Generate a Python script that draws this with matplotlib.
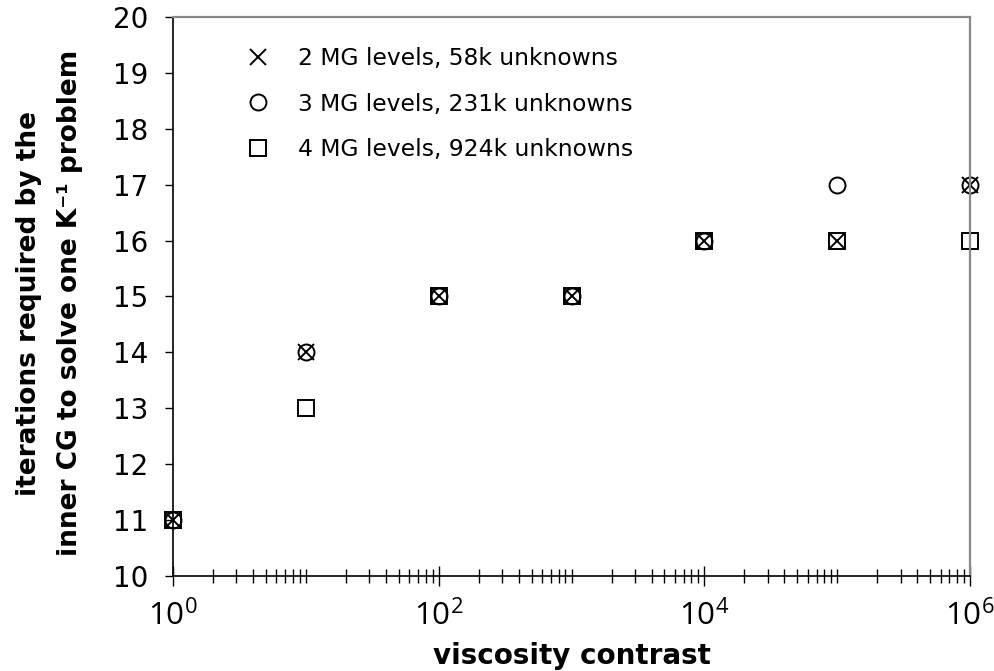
import math
import matplotlib
matplotlib.use("Agg")
import matplotlib.pyplot as plt
from matplotlib.ticker import FixedLocator, FuncFormatter

plt.rcParams['font.family'] = ['DejaVu Sans']
plt.rcParams['mathtext.default'] = 'regular'

viscosity = [1, 10, 100, 1000, 1e4, 1e5, 1e6]
iters_2mg = [11, 14, 15, 15, 16, 16, 17]
iters_3mg = [11, 14, 15, 15, 16, 17, 17]
iters_4mg = [11, 13, 15, 15, 16, 16, 16]
labels = ["2 MG levels, 58k unknowns",
          "3 MG levels, 231k unknowns",
          "4 MG levels, 924k unknowns"]
major_x = [1, 1e2, 1e4, 1e6]
yticks = list(range(10, 21))

fig = plt.figure(figsize=(9.95, 6.71), dpi=100)
ax = fig.add_axes([0.1739, 0.1416, 0.801, 0.8331])

ax.plot(viscosity, iters_2mg, linestyle='none', marker='x', ms=11, mew=1.4,
        color='black', clip_on=False, label=labels[0])
ax.plot(viscosity, iters_3mg, linestyle='none', marker='o', ms=11.5, mew=1.4,
        mfc='none', color='black', clip_on=False, label=labels[1])
ax.plot(viscosity, iters_4mg, linestyle='none', marker='s', ms=11.5, mew=1.4,
        mfc='none', color='black', clip_on=False, label=labels[2])

ax.set_xscale('log')
ax.set_xlim(1, 1e6)
ax.set_ylim(10, 20)
ax.set_yticks(yticks)

minors = []
for d in range(6):
    for m in range(1, 10):
        v = m * 10 ** d
        if v not in major_x:
            minors.append(v)
ax.xaxis.set_major_locator(FixedLocator(major_x))
ax.xaxis.set_minor_locator(FixedLocator(minors))
ax.xaxis.set_major_formatter(FuncFormatter(lambda v, p: r'$10^{%d}$' % round(math.log10(v))))
ax.xaxis.set_minor_formatter(FuncFormatter(lambda v, p: ''))

ax.tick_params(axis='x', which='major', direction='inout', length=14, width=1.0,
               labelsize=22.5, pad=10, top=False)
ax.tick_params(axis='x', which='minor', direction='inout', length=10, width=1.0, top=False)
ax.tick_params(axis='y', which='major', direction='out', length=6, width=1.0,
               labelsize=20, pad=12, right=False)
for lab in ax.get_xticklabels():
    lab.set_fontfamily('Open Sans')

for s in ['top', 'right']:
    ax.spines[s].set_color('#888888')
    ax.spines[s].set_linewidth(1.6)
for s in ['left', 'bottom']:
    ax.spines[s].set_color('black')
    ax.spines[s].set_linewidth(1.2)

ax.set_xlabel('viscosity contrast', fontsize=20, fontweight='bold', labelpad=7)
ax.set_ylabel('iterations required by the\ninner CG to solve one K\u207b\u00b9 problem',
              fontsize=19, fontweight='bold', linespacing=1.75)
ax.yaxis.set_label_coords(-0.113, 0.488)

leg = ax.legend(loc='upper left', frameon=False, fontsize=16.8, handletextpad=0.7,
                handlelength=2.0, borderpad=0.4,
                labelspacing=0.97, bbox_to_anchor=(0.051, 0.984), markerscale=1.0)

fig.savefig('out.png', dpi=100)
